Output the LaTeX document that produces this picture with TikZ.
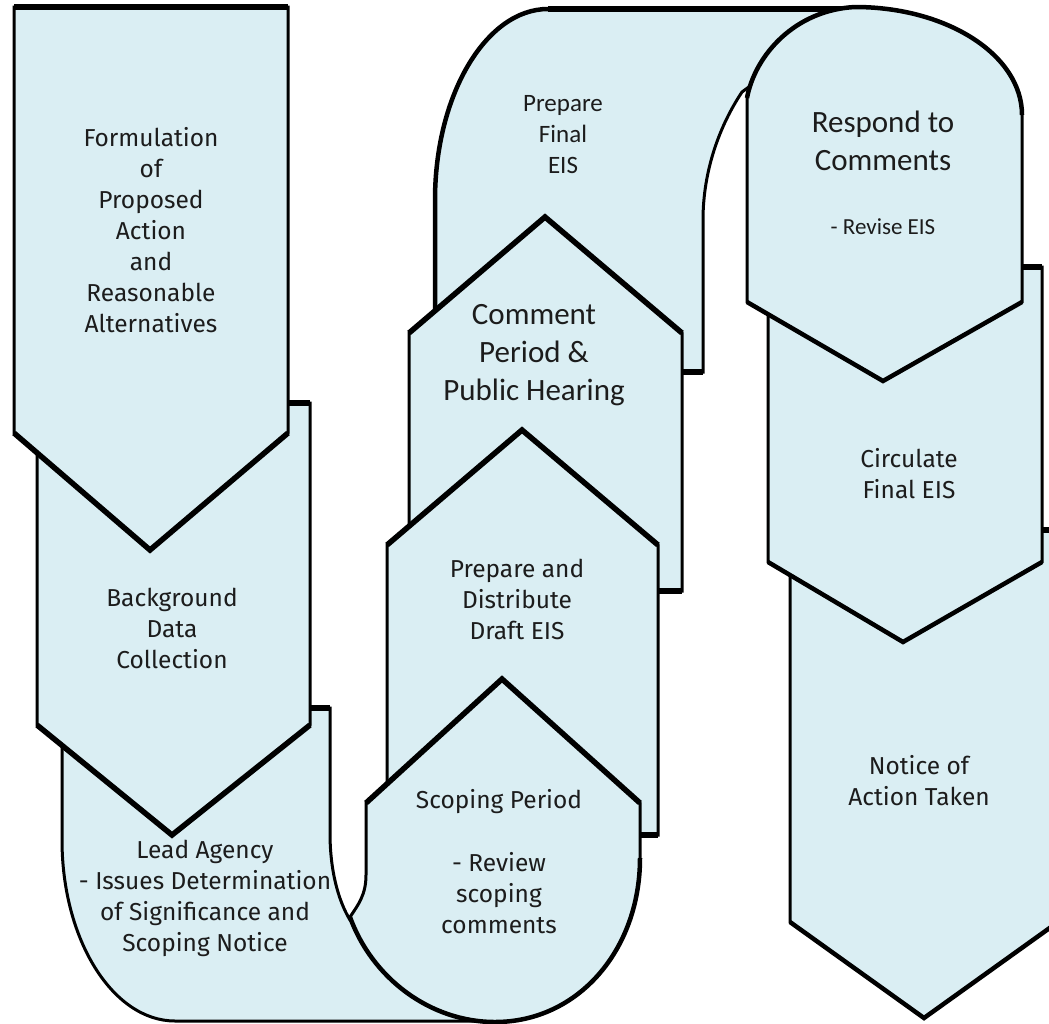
\documentclass[tikz,border=0pt]{standalone}
\usepackage{fontspec}
\setmainfont{Fira Sans}
\newfontfamily\calib{Carlito}
\definecolor{boxfill}{RGB}{218,238,243}
\definecolor{txt}{RGB}{28,28,28}
\tikzset{
  shapebox/.style={fill=boxfill, draw=black, line width=3pt, line join=miter},
  thickedge/.style={draw=black, line width=5.5pt, line join=miter, line cap=butt},
  midedge/.style={draw=black, line width=4.5pt, line join=miter, line cap=butt},
  lbl/.style={align=center, text=txt, inner sep=0pt, font=\fontsize{24.5}{31}\selectfont},
  lblbig/.style={align=center, text=txt, inner sep=0pt, font=\calib\fontsize{31}{38}\selectfont},
  lblmid/.style={align=center, text=txt, inner sep=0pt, font=\calib\fontsize{25}{31}\selectfont},
  lblsmall/.style={align=center, text=txt, inner sep=0pt, font=\calib\fontsize{23}{27}\selectfont}
}
\begin{document}
\begin{tikzpicture}[x=1pt,y=-1pt]
\useasboundingbox (0,0) rectangle (1049,1023);
\clip (0,0) rectangle (1049,1023);
\fill[white] (0,0) rectangle (1049,1023);

% J: Notice of Action Taken
\draw[shapebox] (790,530) -- (1058,530) -- (1058,922) -- (924,1018) -- (790,922) -- cycle;
\draw[thickedge] (790,530) -- (1058,530);
\draw[midedge] (790,922) -- (924,1018) -- (1058,922);

% I: Circulate Final EIS
\draw[shapebox] (768,267) -- (1042,267) -- (1042,562) -- (903,642) -- (768,562) -- cycle;
\draw[thickedge] (768,267) -- (1042,267);
\draw[midedge] (768,562) -- (903,642) -- (1042,562);

% G: Prepare Final EIS (arch)
\draw[shapebox] (435,372) -- (435,200) .. controls (435,95) and (486,9) .. (548,9)
  -- (855,9) -- (742,92) .. controls (720,125) and (703,170) .. (703,220) -- (703,372) -- cycle;
\draw[midedge] (435,310) -- (435,200) .. controls (435,95) and (486,9) .. (548,9);
\draw[thickedge] (548,9) -- (855,9);
\draw[thickedge] (435,372) -- (703,372);

% H: Respond to Comments
\draw[shapebox] (747,302) -- (747,98) .. controls (755,55) and (795,10) .. (855,7)
  .. controls (947,7) and (1022,55) .. (1022,115) -- (1022,302) -- (883,381) -- cycle;
\draw[midedge] (747,98) .. controls (755,55) and (795,10) .. (855,7)
  .. controls (947,7) and (1022,55) .. (1022,115);
\draw[midedge] (747,302) -- (883,381) -- (1022,302);

% F: Comment Period & Public Hearing
\draw[shapebox] (409,333) -- (545,217) -- (682,333) -- (682,591) -- (409,591) -- cycle;
\draw[thickedge] (409,333) -- (545,217) -- (682,333);
\draw[thickedge] (409,591) -- (682,591);

% E: Prepare and Distribute Draft EIS
\draw[shapebox] (387,545) -- (522,430) -- (658,545) -- (658,835) -- (387,835) -- cycle;
\draw[thickedge] (387,545) -- (522,430) -- (658,545);
\draw[thickedge] (387,835) -- (658,835);

% C: Lead Agency
\draw[shapebox] (62,708) -- (330,708) -- (330,833) .. controls (330,870) and (338,900) .. (350,920)
  -- (487,1021) -- (175,1021) .. controls (113,1021) and (62,940) .. (62,840) -- cycle;
\draw[thickedge] (62,708) -- (330,708);

% D: Scoping Period
\draw[shapebox] (366,803) -- (502,679) -- (640,803) -- (640,858)
  .. controls (640,950) and (578,1022) .. (495,1022)
  .. controls (430,1022) and (372,978) .. (350,917)
  .. controls (358,905) and (366,895) .. (366,875) -- cycle;
\draw[thickedge] (366,803) -- (502,679) -- (640,803);
\draw[midedge] (640,858) .. controls (640,950) and (578,1022) .. (495,1022)
  .. controls (430,1022) and (372,978) .. (350,917);

% B: Background Data Collection
\draw[shapebox] (37,403) -- (310,403) -- (310,725) -- (172,835) -- (37,725) -- cycle;
\draw[thickedge] (37,403) -- (310,403);
\draw[thickedge] (37,725) -- (172,835) -- (310,725);

% A: Formulation
\draw[shapebox] (14,7) -- (288,7) -- (288,433) -- (150,550) -- (14,433) -- cycle;
\draw[thickedge] (14,7) -- (288,7);
\draw[thickedge] (14,433) -- (150,550) -- (288,433);

% Labels
\node[lbl] (formulation) at (151,230) {Formulation\\of\\Proposed\\Action\\and\\Reasonable\\Alternatives};
\node[lbl] (background) at (172,628) {Background\\Data\\Collection};
\node[lbl] (lead) at (205,898) {Lead Agency\\- Issues Determination\\of Significance and\\Scoping Notice};
\node[lbl] (scoping) at (499,862) {Scoping Period\\[32pt]- Review\\scoping\\comments};
\node[lbl] (draft) at (517,599) {Prepare and\\Distribute\\Draft EIS};
\node[lblbig] (comment) at (534,355) {Comment\\Period \&\\Public Hearing};
\node[lblmid] (final) at (563,135) {Prepare\\Final\\EIS};
\node[lblbig] (respond) at (883,141) {Respond to\\Comments};
\node[lblsmall] (revise) at (883,227) {- Revise EIS};
\node[lbl] (circulate) at (909,474) {Circulate\\Final EIS};
\node[lbl] (notice) at (919,781) {Notice of\\Action Taken};
\end{tikzpicture}
\end{document}
